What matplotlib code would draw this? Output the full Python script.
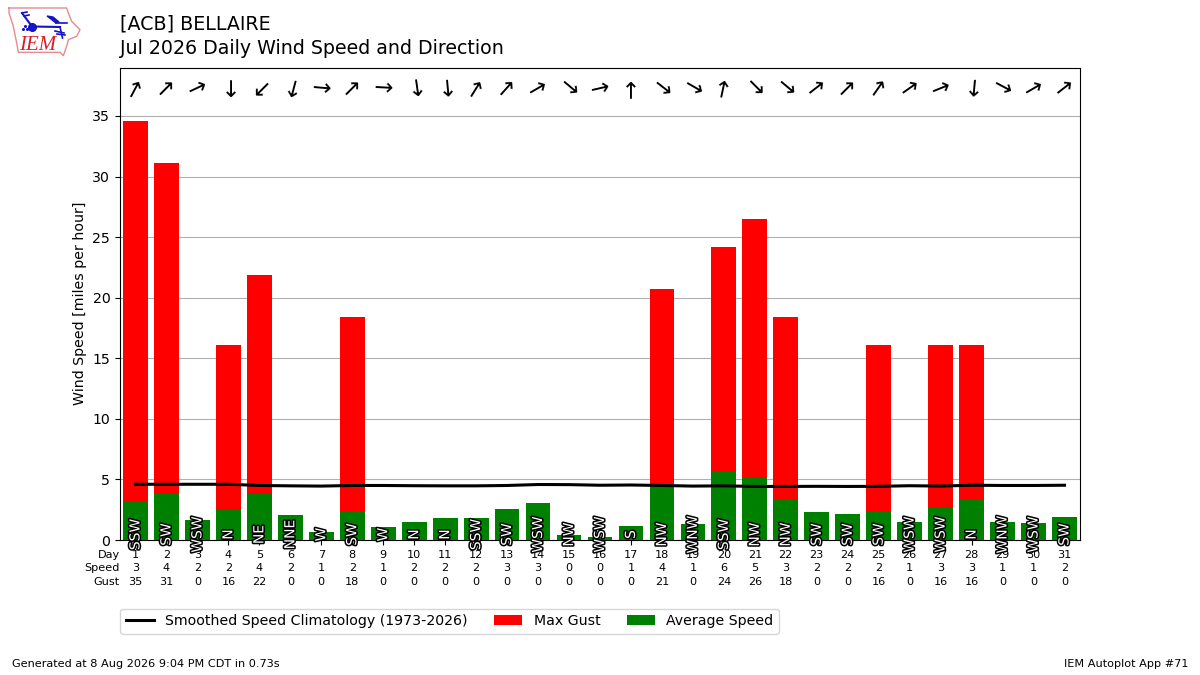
import matplotlib
matplotlib.use("Agg")
import matplotlib.pyplot as plt
import matplotlib.patheffects as PathEffects
import numpy as np

plt.rcParams["font.size"] = 10.2

days = list(range(1, 32))
speed_labels = [3, 4, 2, 2, 4, 2, 1, 2, 1, 2, 2, 2, 3, 3, 0, 0, 1, 4, 1, 6, 5, 3, 2, 2, 2, 1, 3, 3, 1, 1, 2]
gust_labels = [35, 31, 0, 16, 22, 0, 0, 18, 0, 0, 0, 0, 0, 0, 0, 0, 0, 21, 0, 24, 26, 18, 0, 0, 16, 0, 16, 16, 0, 0, 0]
avg_speed = [3.2, 3.8, 1.65, 2.5, 3.85, 2.1, 0.65, 2.35, 1.1, 1.5, 1.8, 1.8, 2.55, 3.05, 0.45, 0.25,
             1.15, 4.5, 1.3, 5.65, 5.1, 3.4, 2.35, 2.15, 2.4, 1.5, 2.7, 3.4, 1.5, 1.4, 1.9]
max_gust = [34.6, 31.1, 0, 16.1, 21.9, 0, 0, 18.4, 0, 0, 0, 0, 0, 0, 0, 0,
            0, 20.7, 0, 24.2, 26.5, 18.4, 0, 0, 16.1, 0, 16.1, 16.1, 0, 0, 0]
climo = [4.6, 4.6, 4.6, 4.6, 4.5, 4.47, 4.45, 4.5, 4.5, 4.48, 4.47, 4.47, 4.5, 4.58, 4.57, 4.52,
         4.54, 4.5, 4.45, 4.47, 4.42, 4.42, 4.43, 4.42, 4.43, 4.48, 4.45, 4.52, 4.5, 4.5, 4.52]
dir_labels = ["SSW", "SW", "WSW", "N", "NE", "NNE", "W", "SW", "W", "N", "N", "SSW", "SW", "WSW", "NW", "WSW",
              "S", "NW", "WNW", "SSW", "NW", "NW", "SW", "SW", "SW", "WSW", "WSW", "N", "WNW", "WSW", "SW"]
dir_degrees = [208, 225, 245, 360, 45, 15, 275, 225, 273, 352, 355, 212, 222, 240, 310, 257,
               180, 308, 300, 192, 315, 310, 232, 225, 215, 235, 248, 5, 298, 240, 232]

fig = plt.figure(figsize=(12, 6.75), dpi=100)
ax = fig.add_axes([0.1, 0.2, 0.8, 0.7])

ax.bar(days, max_gust, width=0.8, color="r", label="Max Gust", zorder=2)
ax.bar(days, avg_speed, width=0.8, color="g", label="Average Speed", zorder=3)
ax.plot(days, climo, color="k", lw=2.2, label="Smoothed Speed Climatology (1973-2026)", zorder=4)

for day, label, deg in zip(days, dir_labels, dir_degrees):
    ax.text(day, 0.45, label, rotation=90, ha="center", va="center", color="white", zorder=5,
            fontsize=10, clip_on=False, path_effects=[PathEffects.withStroke(linewidth=2.2, foreground="k")])
    # arrow points where the wind is going
    ax.text(day, 37.3, "\u2192", rotation=(270 - deg) % 360, rotation_mode="anchor",
            ha="center", va="center", fontsize=16.5, color="k")

ax.set_xlim(0.5, 31.5)
ax.set_ylim(0, 39)
ax.set_yticks(range(0, 40, 5))
ax.set_xticks(days)
ax.set_xticklabels([f"{d}\n{s}\n{g}" for d, s, g in zip(days, speed_labels, gust_labels)], fontsize=8.15, linespacing=1.47)
ax.set_ylabel("Wind Speed [miles per hour]")
ax.grid(axis="y", zorder=0)
ax.set_axisbelow(True)

ax.text(0.0, -0.0205, "Day\nSpeed\nGust", transform=ax.transAxes, ha="right", va="top", fontsize=8.15, linespacing=1.47)

fig.text(0.1, 0.9645, "[ACB] BELLAIRE", fontsize=13.7, va="center")
fig.text(0.1, 0.9275, "Jul 2026 Daily Wind Speed and Direction", fontsize=13.7, va="center")
fig.text(0.01, 0.0125, "Generated at 8 Aug 2026 9:04 PM CDT in 0.73s", fontsize=8.15)
fig.text(0.99, 0.0125, "IEM Autoplot App #71", fontsize=8.15, ha="right")

handles, labels = ax.get_legend_handles_labels()
order = [labels.index("Smoothed Speed Climatology (1973-2026)"), labels.index("Max Gust"), labels.index("Average Speed")]
ax.legend([handles[i] for i in order], [labels[i] for i in order], ncol=3, loc="upper left",
          bbox_to_anchor=(0, -0.145), borderaxespad=0, columnspacing=1.85)

# IEM logo, drawn in pixel coordinates
logo = fig.add_axes([0, 0, 1, 1], zorder=10)
logo.set_xlim(0, 1200)
logo.set_ylim(675, 0)
logo.axis("off")
outline = np.array([(12, 15), (185, 15), (190, 30), (200, 55), (225, 80), (215, 100), (190, 110), (185, 130),
                    (175, 158), (165, 148), (40, 148), (35, 120), (25, 70), (12, 30), (12, 15)]) / 3.0 + (5, 3)
logo.plot(outline[:, 0], outline[:, 1], color="#e88a90", lw=1)
blue = "#1414c8"
logo.plot([32, 60], [26.5, 27], color=blue, lw=1.5)
logo.plot([32, 22], [26.5, 13], color=blue, lw=1.5)
logo.plot([22, 27], [13, 12], color=blue, lw=1.2)
logo.plot([24, 29], [16, 15], color=blue, lw=1.2)
logo.fill([47, 53, 59, 56], [16, 17, 22, 23], color=blue)
logo.plot([56, 67], [23, 23], color=blue, lw=1.2)
logo.plot([60, 62.5], [27, 38], color=blue, lw=1.2)
logo.plot([55, 64], [31, 33], color=blue, lw=1.2)
logo.plot([57, 65], [34, 35], color=blue, lw=1.2)
logo.plot([32], [26.5], "o", color=blue, ms=5.5)
logo.plot([23, 25, 27], [29, 26, 29], "o", color=blue, ms=1.2)
logo.text(38, 45, "IEM", color="#d8202c", fontsize=15, family="Liberation Serif", style="italic",
          ha="center", va="center")

fig.savefig("out.png", dpi=100)
